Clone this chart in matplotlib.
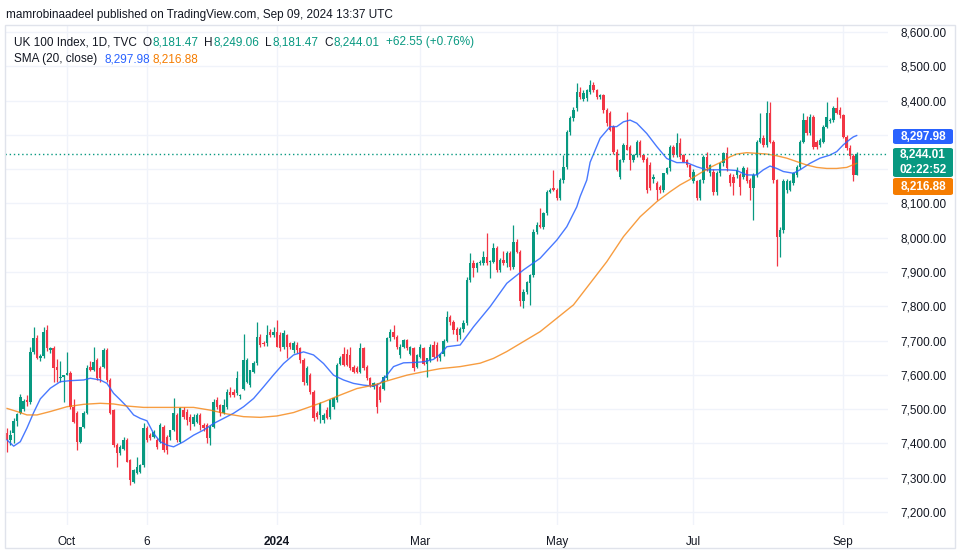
import matplotlib.pyplot as plt
from matplotlib.patches import FancyBboxPatch, Rectangle
import numpy as np

# daily candles, UK 100 (TVC), Sep 2023 - Sep 9 2024
opens = [
    7430, 7410, 7430, 7465, 7490, 7500, 7527, 7522, 7667, 7706, 7650, 7655, 7731, 7672, 7677, 7624, 7590, 7595, 7600, 7604,
    7507, 7488, 7405, 7449, 7488, 7624, 7614, 7643, 7619, 7624, 7672, 7585, 7497, 7395, 7371, 7385, 7410, 7352, 7288, 7313,
    7318, 7337, 7444,
    7425, 7420, 7410, 7405, 7449, 7420, 7420, 7440, 7483, 7405, 7497, 7493, 7478, 7458, 7463, 7483, 7454, 7454, 7415, 7449,
    7527, 7512, 7488, 7507, 7551, 7551, 7546, 7538, 7560, 7580, 7570, 7609, 7634, 7711, 7692, 7692, 7726, 7716, 7726, 7716,
    7682, 7716, 7692, 7672,
    7687, 7677, 7643, 7575, 7600, 7551, 7488, 7483, 7468, 7497, 7478, 7507, 7526, 7633, 7662, 7662, 7658, 7624, 7619, 7609,
    7677, 7624, 7590, 7565, 7570, 7565, 7560, 7590, 7706, 7726, 7711, 7658, 7682, 7701, 7662, 7677, 7624, 7653, 7677, 7633,
    7643, 7687, 7687, 7648,
    7660, 7700, 7770, 7755, 7735, 7715, 7735, 7750, 7877, 7925, 7911, 7925, 7925, 7945, 7928, 7930, 7969, 7906, 7935, 7925,
    7954, 7915, 7988, 7959, 7814, 7843, 7867, 7891, 8018, 8037, 8032, 8071, 8134, 8144, 8139, 8115, 8168, 8207, 8309, 8348,
    8377, 8426, 8406,
    8407, 8426, 8445, 8431, 8411, 8416, 8372, 8363, 8324, 8251, 8178, 8226, 8270, 8266, 8227, 8241, 8280, 8241, 8231, 8212,
    8170, 8159, 8149, 8139, 8188, 8202, 8266, 8241, 8275, 8241, 8227, 8212, 8164, 8164, 8115, 8168, 8236, 8188, 8193, 8134,
    8188, 8217, 8246,
    8183, 8178, 8183, 8183, 8178, 8198, 8168, 8144, 8183, 8280, 8290, 8271, 8363, 8280, 8168, 8003, 8023, 8139, 8139, 8159,
    8183, 8207, 8280, 8343, 8304, 8353, 8280, 8271, 8280, 8324, 8340, 8343, 8377, 8373, 8358, 8295, 8261, 8237, 8181.47,
]
highs = [
    7445, 7440, 7475, 7490, 7545, 7530, 7540, 7680, 7740, 7715, 7660, 7740, 7745, 7680, 7685, 7645, 7640, 7600, 7667, 7610,
    7530, 7495, 7420, 7495, 7630, 7640, 7682, 7650, 7625, 7677, 7677, 7590, 7500, 7400, 7395, 7420, 7415, 7355, 7325, 7361,
    7340, 7460, 7450,
    7430, 7440, 7415, 7460, 7455, 7425, 7440, 7532, 7490, 7505, 7505, 7500, 7485, 7485, 7490, 7490, 7460, 7460, 7455, 7530,
    7535, 7515, 7530, 7560, 7565, 7560, 7610, 7545, 7720, 7650, 7615, 7640, 7755, 7720, 7700, 7745, 7735, 7740, 7760, 7725,
    7730, 7720, 7695, 7700,
    7695, 7680, 7648, 7625, 7605, 7555, 7495, 7520, 7490, 7505, 7530, 7535, 7635, 7655, 7680, 7675, 7682, 7630, 7625, 7692,
    7682, 7628, 7595, 7580, 7575, 7570, 7600, 7710, 7735, 7745, 7715, 7690, 7705, 7705, 7685, 7682, 7660, 7690, 7682, 7650,
    7690, 7700, 7695, 7665,
    7705, 7785, 7775, 7760, 7740, 7740, 7760, 7885, 7954, 7935, 7930, 7935, 7960, 8013, 7935, 7985, 7975, 7940, 7960, 7960,
    7960, 8037, 7995, 7965, 7850, 7875, 7895, 8025, 8045, 8086, 8075, 8140, 8145, 8197, 8145, 8175, 8241, 8315, 8355, 8380,
    8450, 8440, 8430,
    8435, 8460, 8455, 8435, 8420, 8420, 8378, 8370, 8330, 8260, 8230, 8275, 8368, 8270, 8245, 8285, 8285, 8245, 8235, 8220,
    8185, 8165, 8155, 8190, 8205, 8270, 8270, 8305, 8290, 8245, 8230, 8215, 8200, 8168, 8170, 8240, 8250, 8215, 8200, 8195,
    8220, 8250, 8265,
    8190, 8185, 8205, 8190, 8210, 8205, 8175, 8190, 8285, 8363, 8300, 8400, 8397, 8285, 8172, 8030, 8170, 8170, 8168, 8192,
    8212, 8285, 8363, 8355, 8360, 8358, 8285, 8290, 8330, 8397, 8350, 8385, 8410, 8380, 8362, 8300, 8270, 8245, 8249.06,
]
lows = [
    7375, 7395, 7400, 7450, 7485, 7495, 7510, 7515, 7660, 7645, 7640, 7650, 7670, 7665, 7580, 7580, 7580, 7520, 7600, 7500,
    7460, 7380, 7400, 7445, 7485, 7610, 7610, 7585, 7580, 7620, 7580, 7485, 7390, 7332, 7365, 7380, 7345, 7279, 7285, 7310,
    7315, 7330, 7405,
    7410, 7415, 7385, 7400, 7375, 7370, 7410, 7435, 7405, 7400, 7470, 7455, 7440, 7450, 7460, 7440, 7435, 7400, 7395, 7445,
    7500, 7480, 7485, 7500, 7535, 7535, 7540, 7530, 7555, 7575, 7565, 7605, 7630, 7680, 7685, 7685, 7710, 7710, 7680, 7670,
    7675, 7648, 7675, 7665,
    7665, 7635, 7570, 7570, 7545, 7465, 7470, 7460, 7460, 7470, 7470, 7500, 7520, 7628, 7625, 7625, 7615, 7605, 7605, 7605,
    7615, 7585, 7565, 7560, 7488, 7520, 7555, 7585, 7700, 7705, 7675, 7650, 7678, 7672, 7658, 7612, 7620, 7648, 7628, 7594,
    7638, 7650, 7640, 7640,
    7655, 7695, 7745, 7720, 7700, 7705, 7725, 7745, 7870, 7885, 7900, 7920, 7920, 7920, 7881, 7925, 7900, 7900, 7920, 7915,
    7905, 7910, 7955, 7800, 7794, 7835, 7805, 7885, 8010, 8028, 8025, 8065, 8130, 8135, 8110, 8110, 8160, 8200, 8300, 8340,
    8370, 8405, 8400,
    8400, 8420, 8425, 8405, 8405, 8365, 8325, 8310, 8245, 8195, 8170, 8220, 8255, 8198, 8220, 8235, 8235, 8220, 8130, 8140,
    8160, 8110, 8130, 8134, 8185, 8195, 8235, 8236, 8230, 8220, 8205, 8175, 8160, 8110, 8110, 8160, 8195, 8180, 8125, 8125,
    8180, 8210, 8195,
    8150, 8125, 8175, 8125, 8170, 8160, 8110, 8052, 8178, 8275, 8265, 8265, 8275, 8160, 7916, 7945, 8015, 8130, 8135, 8155,
    8178, 8200, 8275, 8300, 8300, 8260, 8260, 8265, 8275, 8320, 8335, 8338, 8360, 8350, 8290, 8255, 8230, 8165, 8181.47,
]
closes = [
    7410, 7425, 7465, 7485, 7535, 7525, 7520, 7667, 7706, 7650, 7655, 7726, 7677, 7677, 7619, 7615, 7595, 7600, 7604, 7507,
    7463, 7405, 7449, 7488, 7619, 7614, 7638, 7590, 7590, 7672, 7585, 7488, 7395, 7371, 7390, 7410, 7347, 7293, 7322, 7332,
    7337, 7444, 7410,
    7415, 7434, 7390, 7454, 7381, 7381, 7440, 7488, 7410, 7502, 7478, 7468, 7463, 7478, 7483, 7454, 7444, 7415, 7449, 7522,
    7507, 7488, 7512, 7551, 7541, 7541, 7590, 7541, 7643, 7643, 7614, 7634, 7711, 7687, 7690, 7716, 7716, 7726, 7682, 7677,
    7721, 7682, 7682, 7692,
    7672, 7643, 7580, 7619, 7551, 7473, 7478, 7517, 7483, 7473, 7526, 7531, 7628, 7648, 7628, 7628, 7619, 7609, 7609, 7677,
    7619, 7590, 7570, 7575, 7507, 7526, 7594, 7706, 7726, 7711, 7682, 7682, 7701, 7677, 7682, 7619, 7658, 7682, 7633, 7648,
    7682, 7653, 7648, 7660,
    7700, 7770, 7755, 7730, 7715, 7735, 7750, 7877, 7925, 7911, 7925, 7930, 7945, 7925, 7932, 7969, 7906, 7935, 7925, 7954,
    7915, 7988, 7959, 7814, 7843, 7872, 7891, 8018, 8037, 8032, 8071, 8134, 8139, 8139, 8115, 8168, 8207, 8309, 8348, 8372,
    8426, 8411, 8421,
    8431, 8445, 8431, 8411, 8416, 8372, 8334, 8314, 8251, 8198, 8226, 8270, 8256, 8227, 8241, 8280, 8241, 8227, 8139, 8144,
    8178, 8139, 8139, 8188, 8202, 8266, 8241, 8275, 8236, 8222, 8212, 8178, 8193, 8115, 8168, 8236, 8202, 8212, 8134, 8188,
    8217, 8246, 8202,
    8159, 8159, 8198, 8149, 8202, 8164, 8144, 8183, 8280, 8290, 8271, 8363, 8280, 8168, 8003, 8023, 8164, 8164, 8164, 8188,
    8207, 8280, 8343, 8304, 8353, 8266, 8266, 8285, 8324, 8353, 8343, 8377, 8363, 8358, 8295, 8261, 8237, 8181.46, 8244.01,
]

# SMA lines, read at sample bars
sma20_at = [0, 2, 4, 6, 8, 10, 13, 16, 19, 23, 25, 28, 30, 32, 34, 36, 38, 40, 42, 44,
            46, 48, 50, 53, 56, 59, 62, 65, 68, 71, 74, 77, 80, 83, 86, 89, 92, 95, 98, 101,
            104, 107, 110, 112, 114, 116, 119, 122, 125, 128, 130, 132, 136, 140, 145, 150, 155, 160, 165, 168,
            171, 172, 174, 175, 178, 181, 183, 185, 187, 189, 192, 195, 198, 201, 204, 207, 210, 213, 216, 219,
            222, 225, 227, 229, 231, 233, 236, 238, 241, 244, 247, 249, 251, 253, 254, 255]
sma20 = [7410, 7392, 7405, 7445, 7490, 7530, 7561, 7580, 7583, 7585, 7590, 7585, 7575, 7546, 7527, 7507, 7483, 7473, 7466, 7429,
         7405, 7395, 7390, 7405, 7424, 7439, 7458, 7473, 7488, 7507, 7531, 7565, 7600, 7633, 7658, 7667, 7658, 7633, 7599, 7585,
         7575, 7570, 7567, 7575, 7599, 7624, 7635, 7636, 7638, 7645, 7660, 7682, 7687, 7740, 7799, 7867, 7906, 7940, 7993, 8032,
         8090, 8120, 8168, 8220, 8290, 8324, 8324, 8338, 8343, 8334, 8304, 8266, 8231, 8219, 8219, 8207, 8198, 8198, 8198, 8196,
         8183, 8183, 8198, 8209, 8202, 8193, 8188, 8198, 8217, 8232, 8241, 8251, 8271, 8287, 8294, 8297.98]
slow_at = [0, 3, 6, 9, 13, 18, 23, 28, 32, 36, 41, 46, 51, 56, 61, 66, 71, 76, 81, 86,
           91, 95, 100, 105, 110, 115, 120, 125, 130, 136, 142, 146, 150, 155, 160, 165, 170, 175, 180, 185,
           190, 195, 199, 202, 205, 208, 211, 214, 217, 219, 222, 225, 228, 231, 234, 237, 240, 243, 246, 249,
           252, 255]
slow = [7502, 7493, 7483, 7483, 7493, 7507, 7514, 7517, 7515, 7509, 7505, 7505, 7505, 7505, 7497, 7486, 7478, 7476, 7480, 7490,
        7507, 7521, 7541, 7560, 7570, 7585, 7599, 7609, 7618, 7624, 7634, 7648, 7668, 7697, 7726, 7765, 7804, 7867, 7930, 8003,
        8061, 8105, 8134, 8154, 8170, 8188, 8205, 8219, 8236, 8244, 8248, 8246, 8244, 8239, 8232, 8222, 8212, 8205, 8202, 8202,
        8205, 8216.88]

tick_bars = [18, 42, 81, 124, 165, 206, 251]
tick_labels = ['Oct', '6', '2024', 'Mar', 'May', 'Jul', 'Sep']

W, H = 961, 560
UP, DOWN = '#089981', '#f23645'
BLUE, ORANGE = '#2962ff', '#f57c00'
TXT = '#131722'
plt.rcParams['font.family'] = ['Liberation Sans', 'DejaVu Sans']


def fx(px):
    return px / W


def fy(py):
    return 1 - py / H


fig = plt.figure(figsize=(W / 100, H / 100), dpi=100)
ax = fig.add_axes([fx(5), fy(525), fx(883), 500 / H])

o, h, l, c = (np.array(a, dtype=float) for a in (opens, highs, lows, closes))
idx = np.arange(len(c))
colors = np.where(c >= o, UP, DOWN)
ax.vlines(idx, l, h, colors=colors, lw=0.9, zorder=2)
ax.bar(idx, np.maximum(np.abs(c - o), 1.5), bottom=np.minimum(o, c), width=0.72,
       color=colors, lw=0, zorder=2)
ax.plot(sma20_at, sma20, color=BLUE, lw=1, alpha=0.85, zorder=3)
ax.plot(slow_at, slow, color=ORANGE, lw=1, alpha=0.75, zorder=3)
ax.axhline(c[-1], color=UP, lw=1, ls=(0, (1, 2)), zorder=3)

ax.set_xlim(-0.6, 264.4)
ax.set_ylim(7162, 8620.4)
for s in ax.spines.values():
    s.set_visible(False)
ax.set_yticks(np.arange(7200, 8601, 100))
ax.yaxis.tick_right()
ax.yaxis.set_major_formatter(lambda v, p: f'{v:,.2f}')
ax.tick_params(axis='y', length=0, pad=9, labelsize=8.5, labelcolor=TXT)
ax.set_xticks(tick_bars)
ax.set_xticklabels(tick_labels)
ax.tick_params(axis='x', length=0, pad=8, labelsize=8.5, labelcolor=TXT)
ax.get_xticklabels()[2].set_fontweight('bold')
ax.grid(True, color='#f0f3fa', lw=1)
ax.set_axisbelow(True)

# outer frame
fig.add_artist(Rectangle((fx(5), fy(548)), fx(950), 523 / H, transform=fig.transFigure,
                         fill=False, ec='#e0e3eb', lw=1))

fig.text(fx(6), fy(15), 'mamrobinaadeel published on TradingView.com, Sep 09, 2024 13:37 UTC',
         fontsize=8.5, color=TXT, va='center')

renderer = fig.canvas.get_renderer()


def text_row(x, y, pieces):
    # pieces: (text, colour, gap in px after it)
    for s, col, gap in pieces:
        t = fig.text(fx(x), fy(y), s, fontsize=8.5, color=col, va='center')
        x += t.get_window_extent(renderer).width + gap


chg = c[-1] - c[-2]
text_row(14, 42.5, [('UK 100 Index, 1D, TVC', TXT, 6), ('O', TXT, 0.5), (f'{o[-1]:,.2f}', UP, 6),
                    ('H', TXT, 0.5), (f'{h[-1]:,.2f}', UP, 6), ('L', TXT, 0.5), (f'{l[-1]:,.2f}', UP, 6),
                    ('C', TXT, 0.5), (f'{c[-1]:,.2f}', UP, 7),
                    (f'{chg:+.2f} ({chg / c[-2] * 100:+.2f}%)', UP, 0)])
text_row(14, 59, [('SMA (20, close)', TXT, 7), (f'{sma20[-1]:,.2f}', BLUE, 3), (f'{slow[-1]:,.2f}', ORANGE, 0)])


def price_box(top, bottom, color, texts):
    fig.add_artist(FancyBboxPatch((fx(893), fy(bottom)), fx(60), (bottom - top) / H,
                                  boxstyle='round,pad=0,rounding_size=0.003',
                                  transform=fig.transFigure, fc=color, ec='none'))
    n = len(texts)
    for k, s in enumerate(texts):
        yc = top + (bottom - top) * (k + 0.5) / n
        fig.text(fx(923), fy(yc), s, fontsize=8.5, color='white', ha='center', va='center',
                 fontweight='bold')


price_box(129, 144, BLUE, [f'{sma20[-1]:,.2f}'])
price_box(148, 177, UP, [f'{c[-1]:,.2f}', '02:22:52'])
price_box(178, 195, ORANGE, [f'{slow[-1]:,.2f}'])

fig.savefig('out.png', dpi=100, facecolor='white')
